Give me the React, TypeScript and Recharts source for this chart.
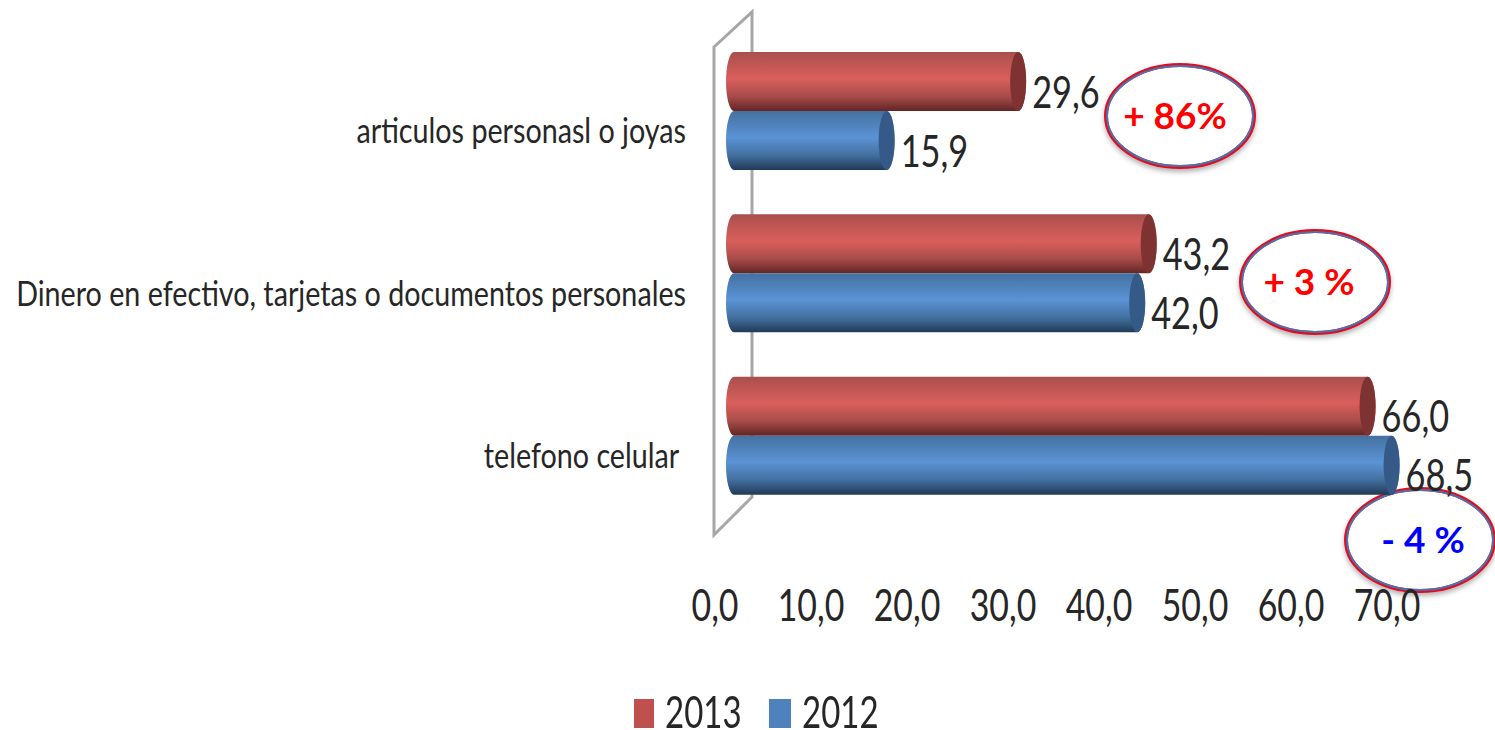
import { Bar, BarChart, LabelList, Legend, XAxis, YAxis } from "recharts";

const categories = [
  "articulos personasl o joyas",
  "Dinero en efectivo, tarjetas o documentos personales",
  "telefono celular ",
];
const values2013 = [29.6, 43.2, 66.0];
const values2012 = [15.9, 42.0, 68.5];
const valueTicks = [0, 10, 20, 30, 40, 50, 60, 70];

const callouts = [
  { text: "+ 86%", color: "#ff0000", cx: 1180, cy: 116, textX: 1175 },
  { text: "+ 3 %", color: "#ff0000", cx: 1315, cy: 282, textX: 1309 },
  { text: "- 4 %", color: "#0000ff", cx: 1420, cy: 540, textX: 1423 },
];

const chartData = categories.map((name, i) => ({
  name,
  y2013: values2013[i],
  y2012: values2012[i],
}));

const FONT = "Lato, sans-serif";
const formatValue = (v: number) => v.toFixed(1).replace(".", ",");

function Cylinder({ x, y, width, height, fill, capFill }: any) {
  const r = 8;
  const ry = height / 2;
  return (
    <g>
      <path
        d={`M${x + r},${y} L${x + width + r},${y} A${r},${ry} 0 0 1 ${x + width + r},${y + height} L${x + r},${y + height} A${r},${ry} 0 0 1 ${x + r},${y} Z`}
        fill={fill}
      />
      <ellipse cx={x + width + r} cy={y + ry} rx={r} ry={ry} fill={capFill} />
    </g>
  );
}

function CategoryTick({ x, y, payload }: any) {
  return (
    <text
      transform={`translate(${x - 40},${y + 32}) scale(0.82,1)`}
      textAnchor="end"
      fontFamily={FONT}
      fontSize={35}
      fill="#262626"
      style={{ whiteSpace: "pre" }}
    >
      {payload.value}
    </text>
  );
}

function ValueTick({ x, y, payload }: any) {
  return (
    <text
      transform={`translate(${x - 11},${y + 96}) scale(0.77,1)`}
      textAnchor="middle"
      fontFamily={FONT}
      fontSize={44}
      fill="#262626"
    >
      {formatValue(payload.value)}
    </text>
  );
}

function BarValue({ x, y, width, height, value }: any) {
  return (
    <text
      transform={`translate(${x + width + 22},${y + height / 2 + 26}) scale(0.78,1)`}
      fontFamily={FONT}
      fontSize={44}
      fill="#262626"
    >
      {formatValue(value)}
    </text>
  );
}

function LegendBox({ payload }: any) {
  const spots = [
    { swatch: 634, w: 20, label: 665 },
    { swatch: 769, w: 22, label: 802 },
  ];
  return (
    <div style={{ position: "relative", width: 1495, height: 30 }}>
      {(payload ?? []).map((item: any, i: number) => (
        <div key={item.value}>
          <div
            style={{
              position: "absolute",
              left: spots[i].swatch,
              top: 0,
              width: spots[i].w,
              height: 29,
              background: item.color,
            }}
          />
          <span
            style={{
              position: "absolute",
              display: "inline-block",
              left: spots[i].label,
              top: -3,
              fontFamily: FONT,
              fontSize: 44,
              lineHeight: "30px",
              color: "#262626",
              transform: "scaleX(0.75)",
              transformOrigin: "left",
            }}
          >
            {item.value}
          </span>
        </div>
      ))}
    </div>
  );
}

export default function App() {
  return (
    <div style={{ position: "absolute", left: 0, top: 0, width: 1495, height: 730, background: "#fff" }}>
      <BarChart
        width={1495}
        height={730}
        data={chartData}
        layout="vertical"
        barSize={59}
        barGap={0}
        margin={{ top: 30, right: 97, bottom: 0, left: 0 }}
      >
        <defs>
          <linearGradient id="redBar" x1="0" y1="0" x2="0" y2="1">
            <stop offset="0%" stopColor="#a94f4d" />
            <stop offset="45%" stopColor="#da5f5c" />
            <stop offset="75%" stopColor="#a84c4a" />
            <stop offset="100%" stopColor="#622524" />
          </linearGradient>
          <linearGradient id="blueBar" x1="0" y1="0" x2="0" y2="1">
            <stop offset="0%" stopColor="#44719f" />
            <stop offset="45%" stopColor="#5b93d6" />
            <stop offset="75%" stopColor="#43709f" />
            <stop offset="100%" stopColor="#203a57" />
          </linearGradient>
          <filter id="calloutShadow" x="-10%" y="-10%" width="120%" height="125%">
            <feDropShadow dx="0" dy="3" stdDeviation="2.5" floodColor="#000" floodOpacity="0.3" />
          </filter>
        </defs>
        {/* back wall of the 3d plot */}
        <path
          d="M714,47 L752,12 L752,497 L714,535 Z"
          fill="none"
          stroke="#a6a6a6"
          strokeWidth={3}
        />
        <XAxis
          type="number"
          domain={[0, 70]}
          ticks={valueTicks}
          axisLine={false}
          tickLine={false}
          height={183}
          tick={<ValueTick />}
          interval={0}
        />
        <YAxis
          type="category"
          dataKey="name"
          width={726}
          axisLine={false}
          tickLine={false}
          tickMargin={0}
          tickSize={0}
          tick={<CategoryTick />}
          interval={0}
        />
        <Legend
          verticalAlign="bottom"
          itemSorter={null}
          content={<LegendBox />}
          wrapperStyle={{ left: 0, top: 699, width: 1495 }}
        />
        <Bar
          dataKey="y2013"
          name="2013"
          fill="#c0504d"
          isAnimationActive={false}
          shape={(p: any) => <Cylinder {...p} fill="url(#redBar)" capFill="#7e3231" />}
        >
          <LabelList dataKey="y2013" content={<BarValue />} />
        </Bar>
        <Bar
          dataKey="y2012"
          name="2012"
          fill="#4f81bd"
          isAnimationActive={false}
          shape={(p: any) => <Cylinder {...p} fill="url(#blueBar)" capFill="#355a87" />}
        >
          <LabelList dataKey="y2012" content={<BarValue />} />
        </Bar>
        {callouts.map((c) => (
          <g key={c.text}>
            <ellipse
              cx={c.cx}
              cy={c.cy}
              rx={74}
              ry={51}
              fill="#fff"
              stroke="#e0101c"
              strokeWidth={4}
              filter="url(#calloutShadow)"
            />
            <ellipse cx={c.cx} cy={c.cy} rx={73} ry={50} fill="none" stroke="#4f6fb0" strokeWidth={2} />
            <text
              x={c.textX}
              y={c.cy + 13}
              textAnchor="middle"
              fontFamily={FONT}
              fontWeight={700}
              fontSize={37}
              fill={c.color}
            >
              {c.text}
            </text>
          </g>
        ))}
      </BarChart>
    </div>
  );
}
